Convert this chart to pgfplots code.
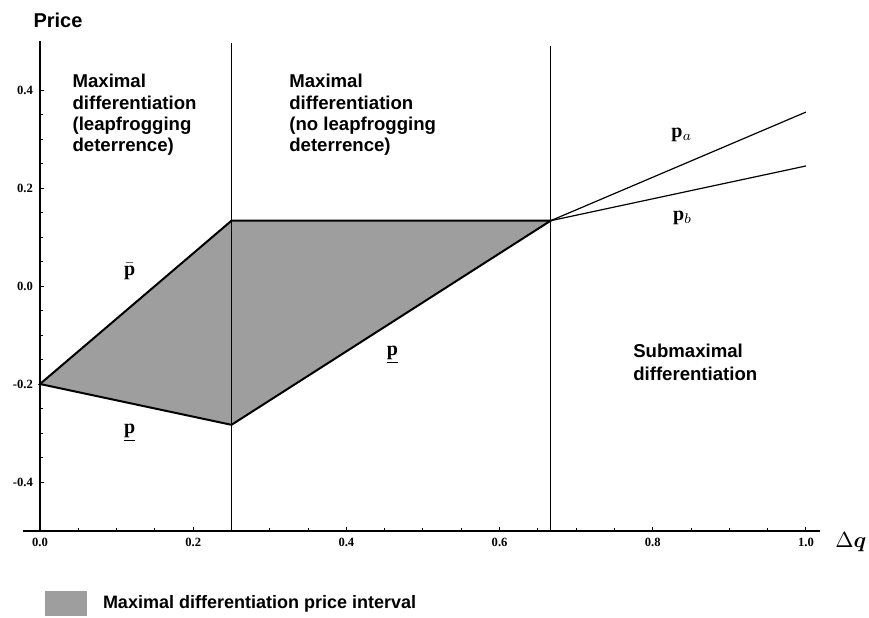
\documentclass[border=0pt]{standalone}
\usepackage{pgfplots}
\pgfplotsset{compat=1.18}
\usepackage{amsmath}
\usepackage{bm}
\usepackage{fontspec}
\setmainfont{Liberation Sans}
\newfontfamily\tickfont{Liberation Serif}
\newcommand{\pp}{{\tickfont\bfseries p}}
\begin{document}
\begin{tikzpicture}
\begin{axis}[
  scale only axis, width=398.5pt, height=245pt,
  xmin=-0.0222, xmax=1.0183, ymin=-0.5, ymax=0.5,
  axis x line=bottom, axis y line=middle,
  axis line style={-, line width=0.6pt},
  hide obscured x ticks=false, hide obscured y ticks=false,
  xtick={0,0.2,0.4,0.6,0.8,1.0}, ytick={-0.4,-0.2,0,0.2,0.4},
  minor x tick num=3, minor y tick num=3,
  tick align=inside, major tick length=2.2pt, minor tick length=1.3pt,
  tick style={line width=0.5pt, black},
  /pgf/number format/fixed, /pgf/number format/fixed zerofill,
  /pgf/number format/precision=1, /pgf/number format/assume math mode=true,
  tick label style={font=\tickfont\bfseries\fontsize{6.3}{7}\selectfont},
  clip=false,
  legend style={at={(rel axis cs:0.0276,-0.148)}, anchor=west, draw=none, fill=none,
    inner sep=0pt, outer sep=0pt, column sep=6pt, font=\bfseries\fontsize{9}{10}\selectfont},
  legend cell align=left,
]
\addplot[fill=black!38, draw=black, line width=1pt, area legend,
  legend image code/.code={\fill[black!38] (0pt,-5.75pt) rectangle (20pt,5.75pt);}]
  coordinates {(0,-0.2) (0.25,0.1333) (0.6667,0.1333) (0.25,-0.2833)} -- cycle;
\addlegendentry{Maximal differentiation price interval}
\addplot[black, line width=0.5pt, forget plot] coordinates {(0.25,-0.5) (0.25,0.495)};
\addplot[black, line width=0.5pt, forget plot] coordinates {(0.6667,-0.5) (0.6667,0.49)};
\addplot[black, line width=0.6pt, forget plot] coordinates {(0.6667,0.1333) (1,0.355)};
\addplot[black, line width=0.6pt, forget plot] coordinates {(0.6667,0.1333) (1,0.245)};
\node[anchor=north west, align=left, inner sep=0pt, font=\bfseries\fontsize{9.3}{10.7}\selectfont]
  at (axis cs:0.042,0.433) {Maximal\\differentiation\\(leapfrogging\\deterrence)};
\node[anchor=north west, align=left, inner sep=0pt, font=\bfseries\fontsize{9.3}{10.7}\selectfont]
  at (axis cs:0.325,0.433) {Maximal\\differentiation\\(no leapfrogging\\deterrence)};
\node[anchor=north west, align=left, inner sep=0pt, font=\bfseries\fontsize{9.3}{11.5}\selectfont]
  at (axis cs:0.774,-0.118) {Submaximal\\differentiation};
\node[anchor=base west, inner sep=0pt, font=\bfseries\fontsize{10}{12}\selectfont]
  at (axis cs:-0.009,0.527) {Price};
\node[anchor=base west, inner sep=0pt] at (axis cs:1.038,-0.533) {\fontsize{10.5}{12}\selectfont$\Delta\bm{q}$};
\node[font=\fontsize{10}{12}\selectfont] at (axis cs:0.117,0.029) {$\bar{\text{\pp}}$};
\node[font=\fontsize{10}{12}\selectfont] at (axis cs:0.117,-0.30) {\underline{\pp}};
\node[font=\fontsize{10}{12}\selectfont] at (axis cs:0.46,-0.141) {\underline{\pp}};
\node[font=\fontsize{10}{12}\selectfont] at (axis cs:0.838,0.308) {\pp$_a$};
\node[font=\fontsize{10}{12}\selectfont] at (axis cs:0.839,0.139) {\pp$_b$};
\end{axis}
\pgfresetboundingbox
\path (-11.5pt,-43pt) rectangle (423pt,265.5pt);
\end{tikzpicture}
\end{document}
